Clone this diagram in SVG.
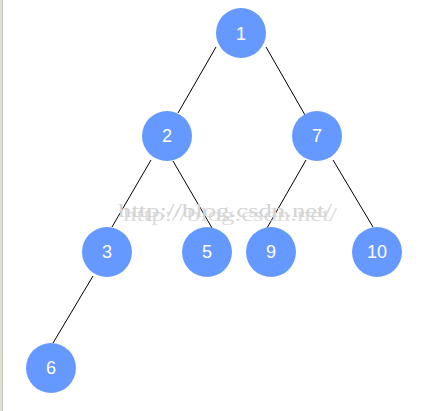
<svg xmlns="http://www.w3.org/2000/svg" width="447" height="411" viewBox="0 0 447 411">
<style>
.n circle{fill:#6699ff}
.n text{fill:#ffffff;font-family:"Liberation Sans",Arial,sans-serif;font-size:18px;text-anchor:middle}
.e line{stroke:#000000;stroke-width:1}
.wm{fill:#d4d4d4;font-family:"Liberation Serif","DejaVu Serif",serif;font-size:18px}
</style>
<rect x="0" y="0" width="447" height="411" fill="#ffffff"/>
<rect x="0" y="0" width="3" height="411" fill="#dfe0d0"/>
<line x1="2.5" y1="0" x2="2.5" y2="411" stroke="#c9cab8" stroke-width="1"/>
<g id="connectors" class="e">
<line x1="216" y1="47" x2="178" y2="113"/>
<line x1="266" y1="47" x2="305" y2="115"/>
<line x1="151" y1="160" x2="112" y2="227"/>
<line x1="173" y1="161" x2="212" y2="228"/>
<line x1="306" y1="160" x2="267" y2="228"/>
<line x1="333" y1="160" x2="373" y2="227"/>
<line x1="93" y1="276" x2="53" y2="343"/>
</g>
<g id="node-1" class="n"><circle cx="241" cy="33" r="25"/><text x="241" y="40">1</text></g>
<g id="node-2" class="n"><circle cx="167" cy="136" r="25"/><text x="167" y="142">2</text></g>
<g id="node-7" class="n"><circle cx="317" cy="136" r="25"/><text x="317" y="142">7</text></g>
<g id="node-3" class="n"><circle cx="107" cy="252" r="25"/><text x="107" y="258">3</text></g>
<g id="node-5" class="n"><circle cx="207" cy="252" r="25"/><text x="207" y="258">5</text></g>
<g id="node-9" class="n"><circle cx="271" cy="252" r="25"/><text x="271" y="258">9</text></g>
<g id="node-10" class="n"><circle cx="377" cy="252" r="25"/><text x="377" y="258">10</text></g>
<g id="node-6" class="n"><circle cx="51" cy="368" r="25"/><text x="51" y="374">6</text></g>
<g id="watermark">
<text class="wm" x="118" y="217" textLength="214" lengthAdjust="spacingAndGlyphs">http://blog.csdn.net/</text>
<text class="wm" x="123" y="221" textLength="214" lengthAdjust="spacingAndGlyphs" opacity="0.8">http://blog.csdn.net/</text>
</g>
</svg>
